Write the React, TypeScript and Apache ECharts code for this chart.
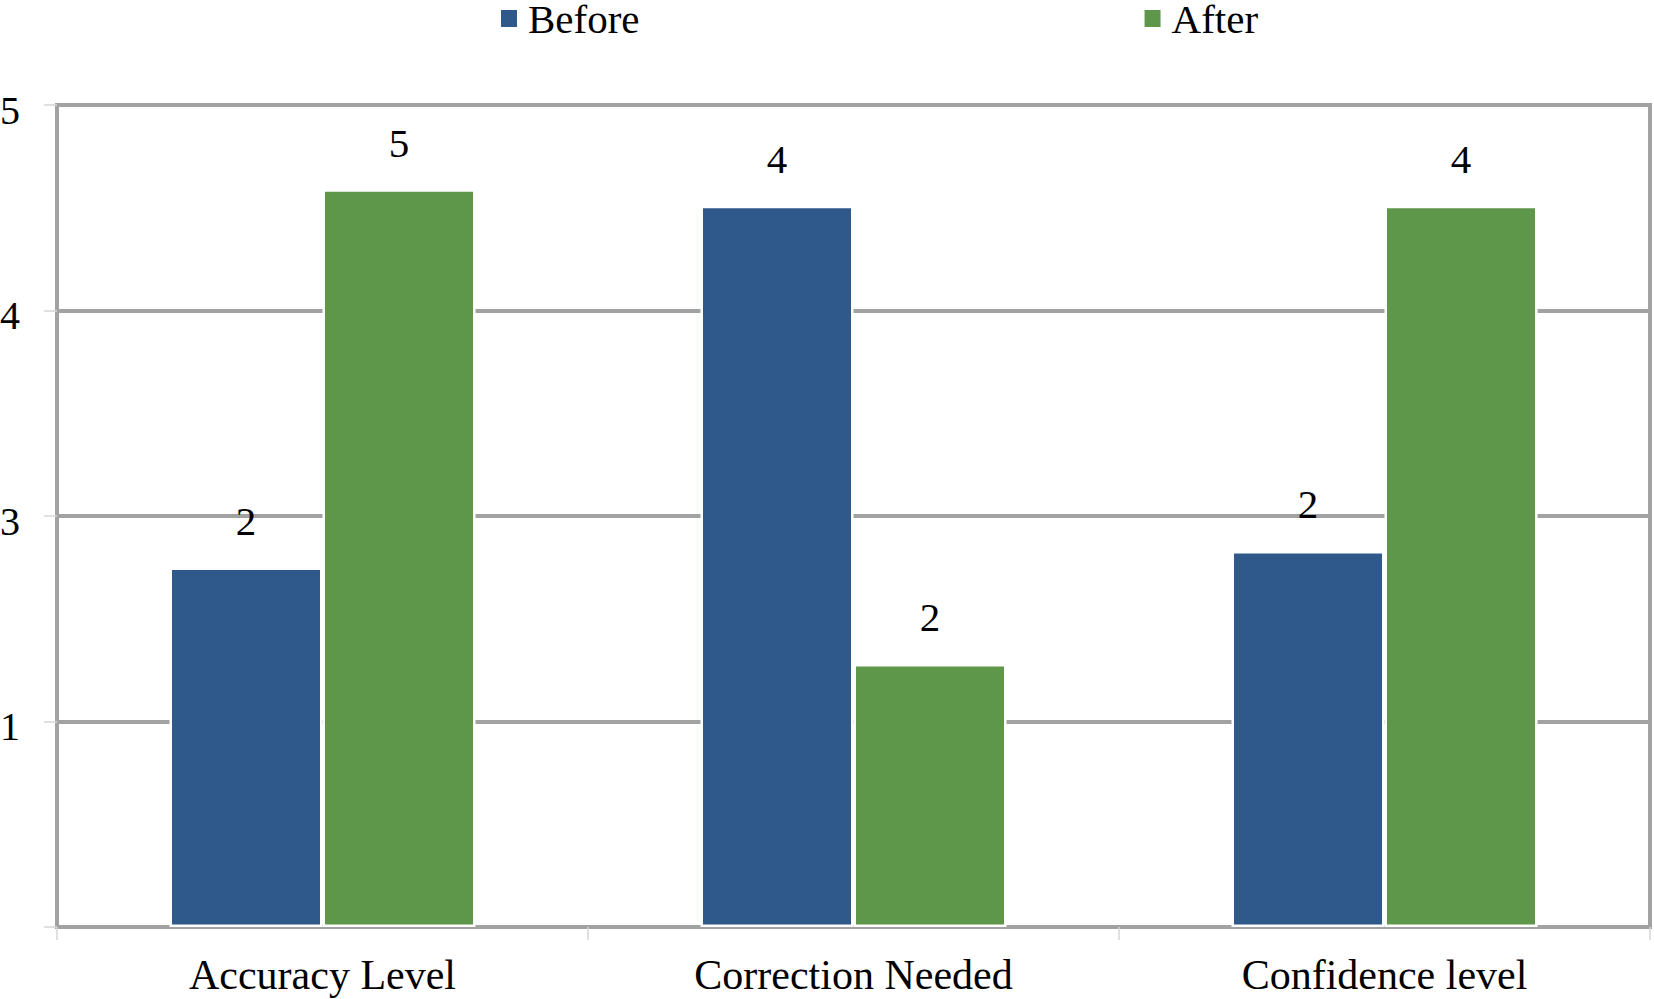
import React, { useEffect, useRef } from "react";
import * as echarts from "echarts";

const categories = ["Accuracy Level", "Correction Needed", "Confidence level"];
const seriesNames = ["Before", "After"];
// bar heights, in axis units (gridline steps)
const beforeValues = [1.75, 3.51, 1.83];
const afterValues = [3.59, 1.28, 3.51];
// value labels printed above the bars
const beforeLabels = ["2", "4", "2"];
const afterLabels = ["5", "2", "4"];
// tick labels shown at each gridline, bottom to top
const yTickLabels = ["", "1", "3", "4", "5"];

const FONT = "'Liberation Serif', 'Times New Roman', serif";
const BLUE = "#2E598A";
const GREEN = "#5E9749";
const GRID_GRAY = "#a2a2a2";

export default function App() {
  const ref = useRef<HTMLDivElement>(null);

  useEffect(() => {
    if (!ref.current) return;
    const chart = echarts.init(ref.current, undefined, { renderer: "svg" });
    const labelStyle = (labels: string[]) => ({
      show: true,
      position: "top",
      distance: 26,
      fontFamily: FONT,
      fontSize: 41,
      color: "#000",
      formatter: (p: any) => labels[p.dataIndex],
    });
    chart.setOption({
      animation: false,
      backgroundColor: "#fff",
      textStyle: { fontFamily: FONT },
      legend: {
        data: [
          { name: seriesNames[0], itemStyle: { color: BLUE, borderColor: BLUE, borderWidth: 0 } },
          { name: seriesNames[1], itemStyle: { color: GREEN, borderColor: GREEN, borderWidth: 0 } },
        ],
        left: 501,
        top: -2,
        padding: 0,
        itemGap: 505,
        itemWidth: 16,
        itemHeight: 17,
        icon: "rect",
        symbolKeepAspect: false,
        textStyle: {
          fontFamily: FONT,
          fontSize: 41,
          color: "#000",
          lineHeight: 37,
          padding: [0, 0, 0, 6],
        },
      },
      grid: {
        left: 57,
        top: 105,
        width: 1593,
        height: 822,
        show: true,
        borderColor: GRID_GRAY,
        borderWidth: 4,
        containLabel: false,
        outerBoundsMode: "none",
      },
      xAxis: {
        type: "category",
        data: categories,
        axisLine: { show: false },
        axisTick: { show: true, length: 13, lineStyle: { color: "#d6d6d6", width: 1.5 } },
        axisLabel: {
          fontFamily: FONT,
          fontSize: 42,
          color: "#000",
          margin: 31,
          lineHeight: 34,
        },
        splitLine: { show: false },
      },
      yAxis: {
        type: "value",
        min: 0,
        max: 4,
        interval: 1,
        axisLine: { show: false },
        axisTick: { show: true, length: 13, lineStyle: { color: "#d6d6d6", width: 1.5 } },
        axisLabel: {
          fontFamily: FONT,
          fontSize: 40,
          color: "#000",
          margin: 37,
          verticalAlign: "top",
          lineHeight: 10,
          formatter: (v: number) => yTickLabels[Math.round(v)] ?? "",
        },
        splitLine: { show: true, lineStyle: { color: GRID_GRAY, width: 4 } },
      },
      series: [
        {
          name: seriesNames[0],
          type: "bar",
          data: beforeValues,
          barWidth: 153,
          barGap: "0%",
          itemStyle: { color: BLUE, borderColor: "#fff", borderWidth: 2.5 },
          label: labelStyle(beforeLabels),
        },
        {
          name: seriesNames[1],
          type: "bar",
          data: afterValues,
          barWidth: 153,
          barGap: "0%",
          itemStyle: { color: GREEN, borderColor: "#fff", borderWidth: 2.5 },
          label: labelStyle(afterLabels),
        },
      ],
    });
    return () => chart.dispose();
  }, []);

  return (
    <div
      ref={ref}
      style={{ position: "fixed", left: 0, top: 0, width: 1654, height: 999 }}
    />
  );
}
